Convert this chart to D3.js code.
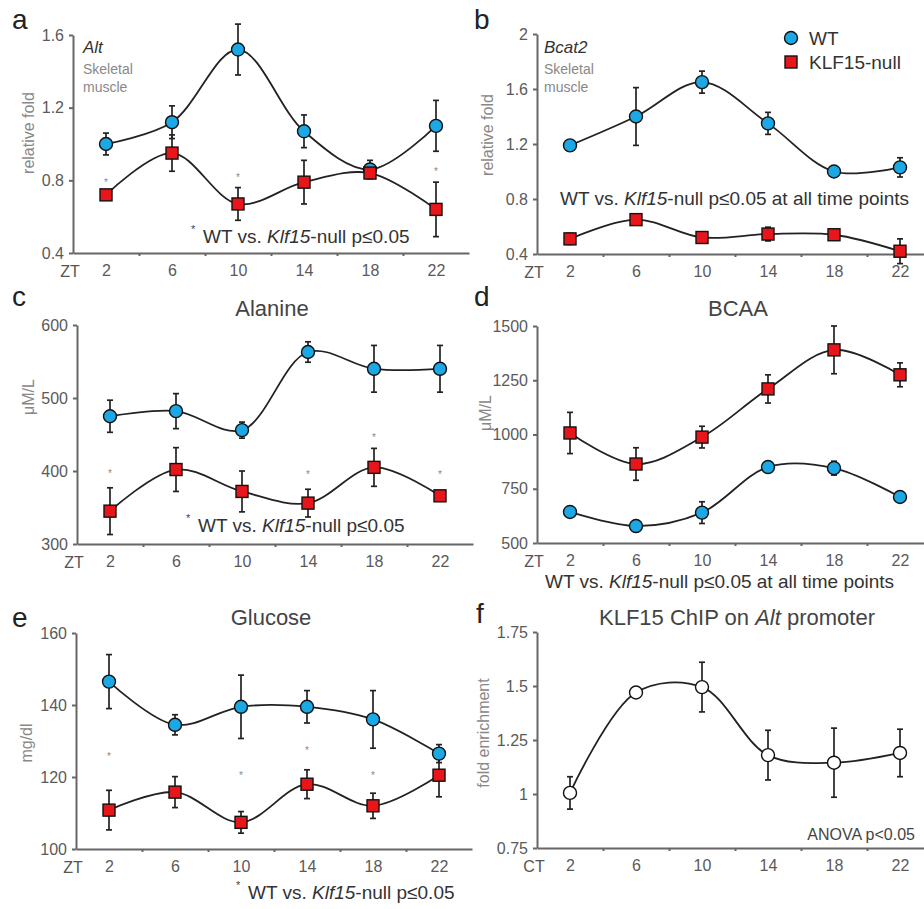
<!DOCTYPE html>
<html>
<head>
<meta charset="utf-8">
<script src="https://cdn.jsdelivr.net/npm/d3@7"></script>
<style>
  body { margin: 0; background: #fff; }
  svg { font-family: "Liberation Sans", Arial, sans-serif; }
  .axis path, .axis line { stroke: #666; stroke-width: 2; }
  .axis text { fill: #5a5a5a; font-size: 16px; }
</style>
</head>
<body>
<script>
// time points (ZT / CT)
const times = [2, 6, 10, 14, 18, 22];

// a: Alt, skeletal muscle
const altWT = [1.00, 1.12, 1.52, 1.07, 0.86, 1.10];
const altWTErr = [0.06, 0.09, 0.14, 0.09, 0.05, 0.14];
const altKO = [0.72, 0.95, 0.67, 0.79, 0.84, 0.64];
const altKOErr = [0.02, 0.10, 0.09, 0.12, 0.03, 0.15];
const altStars = [0.80, null, 0.83, null, null, 0.86];

// b: Bcat2, skeletal muscle
const bcatWT = [1.19, 1.40, 1.65, 1.35, 1.00, 1.03];
const bcatWTErr = [0.02, 0.21, 0.08, 0.08, 0.04, 0.07];
const bcatKO = [0.51, 0.65, 0.52, 0.545, 0.54, 0.42];
const bcatKOErr = [0.04, 0.02, 0.03, 0.05, 0.03, 0.09];

// c: Alanine
const alaWT = [475, 482, 456, 563, 540, 540];
const alaWTErr = [22, 24, 11, 14, 32, 32];
const alaKO = [345, 402, 372, 356, 405, 366];
const alaKOErr = [32, 30, 28, 19, 26, 6];
const alaStars = [400, null, null, 398, 450, 398];

// d: BCAA
const bcaaWT = [643, 578, 640, 850, 845, 712];
const bcaaWTErr = [8, 25, 50, 8, 32, 8];
const bcaaKO = [1007, 864, 988, 1210, 1390, 1275];
const bcaaKOErr = [95, 75, 50, 65, 110, 55];

// e: Glucose
const gluWT = [146.5, 134.5, 139.5, 139.5, 136, 126.5];
const gluWTErr = [7.5, 2.8, 8.8, 4.5, 8, 2.5];
const gluKO = [110.8, 115.8, 107.4, 118, 112, 120.5];
const gluKOErr = [5.5, 4.3, 3, 4, 3.5, 6];
const gluStars = [126.5, null, 121, 128, 121, null];

// f: KLF15 ChIP
const chip = [1.005, 1.47, 1.495, 1.18, 1.145, 1.19];
const chipErr = [0.075, 0, 0.115, 0.115, 0.16, 0.11];

const blue = '#1ba8e4';
const red = '#e8161b';

const svg = d3.select('body').append('svg')
  .attr('width', 924)
  .attr('height', 909);

// text with italic pieces: parts = [[text, italic], ...]
const mixed = (sel, parts) => {
  parts.forEach(([t, it]) => {
    sel.append('tspan').attr('font-style', it ? 'italic' : null).text(t);
  });
  return sel;
};

const drawPanel = (p) => {
  const x = d3.scaleLinear().domain([0, 24]).range([p.left, p.left + 396]);
  const y = d3.scaleLinear().domain(p.domain).range([p.bottom, p.top]);
  const g = svg.append('g');

  // y axis
  g.append('g')
    .attr('class', 'axis')
    .attr('transform', `translate(${p.left},0)`)
    .call(d3.axisLeft(y).tickValues(p.ticks).tickFormat(p.fmt)
      .tickSize(4).tickSizeOuter(0).tickPadding(5));

  // x axis: minor ticks between categories, then labels
  g.append('g')
    .attr('class', 'axis')
    .attr('transform', `translate(0,${p.bottom})`)
    .call(d3.axisBottom(x).tickValues([4, 8, 12, 16, 20]).tickFormat('')
      .tickSize(3).tickSizeOuter(0));
  g.append('g')
    .attr('class', 'axis')
    .attr('transform', `translate(0,${p.bottom})`)
    .call(d3.axisBottom(x).tickValues(times).tickSize(0).tickPadding(12))
    .call(a => a.select('.domain').remove());

  g.append('text')
    .attr('x', p.left - 3)
    .attr('y', p.bottom + 24)
    .attr('text-anchor', 'middle')
    .attr('fill', '#555')
    .attr('font-size', 16)
    .text(p.xName || 'ZT');

  // y axis title
  g.append('text')
    .attr('transform', `translate(${p.yLabelX},${p.yLabelY}) rotate(-90)`)
    .attr('text-anchor', 'middle')
    .attr('fill', '#888')
    .attr('font-size', 16)
    .text(p.yLabel);

  // panel letter
  g.append('text')
    .attr('x', p.letterX)
    .attr('y', p.letterY)
    .attr('font-size', 28)
    .attr('fill', '#222')
    .text(p.letter);

  const line = d3.line()
    .x((d, i) => x(times[i]))
    .y(d => y(d))
    .curve(d3.curveCatmullRom.alpha(0.5));

  p.series.forEach(s => {
    g.append('path')
      .attr('d', line(s.values))
      .attr('fill', 'none')
      .attr('stroke', '#222')
      .attr('stroke-width', 1.8);
  });

  p.series.forEach(s => {
    const eb = g.append('g').attr('stroke', '#222').attr('stroke-width', 1.7);
    s.values.forEach((v, i) => {
      const e = s.errors[i];
      if (!e) return;
      const cx = x(times[i]);
      eb.append('line').attr('x1', cx).attr('x2', cx)
        .attr('y1', y(v - e)).attr('y2', y(v + e));
      [v - e, v + e].forEach(w => {
        eb.append('line').attr('x1', cx - 3).attr('x2', cx + 3)
          .attr('y1', y(w)).attr('y2', y(w));
      });
    });
  });

  p.series.forEach(s => {
    s.values.forEach((v, i) => {
      const cx = x(times[i]);
      if (s.shape === 'square') {
        g.append('rect')
          .attr('x', cx - 6).attr('y', y(v) - 6)
          .attr('width', 12).attr('height', 12)
          .attr('fill', s.color).attr('stroke', '#111').attr('stroke-width', 1.4);
      } else {
        g.append('circle')
          .attr('cx', cx).attr('cy', y(v)).attr('r', 6.5)
          .attr('fill', s.color).attr('stroke', '#111').attr('stroke-width', 1.4);
      }
    });
  });

  if (p.stars) {
    p.stars.forEach((v, i) => {
      if (v == null) return;
      g.append('text')
        .attr('x', x(times[i]))
        .attr('y', y(v) + 6)
        .attr('text-anchor', 'middle')
        .attr('font-size', 10)
        .attr('fill', '#888')
        .text('*');
    });
  }

  if (p.title) {
    mixed(g.append('text')
      .attr('x', p.titleX)
      .attr('y', p.titleY)
      .attr('text-anchor', 'middle')
      .attr('font-size', 22)
      .attr('fill', '#444'), p.title);
  }
  return g;
};

const note = (x, y, star, tail) => {
  if (star) {
    svg.append('text').attr('x', x - 12).attr('y', y - 10)
      .attr('font-size', 11).attr('fill', '#444').text('*');
  }
  mixed(svg.append('text')
    .attr('x', x).attr('y', y)
    .attr('font-size', 19).attr('fill', '#333'),
    [['WT vs. ', false], ['Klf15', true], ['-null p\u22640.05' + (tail || ''), false]]);
};

const f1 = d3.format('.1f');

// a
const ga = drawPanel({
  left: 73, top: 35, bottom: 253, domain: [0.4, 1.6], ticks: [0.4, 0.8, 1.2, 1.6], fmt: f1,
  yLabel: 'relative fold', yLabelX: 34, yLabelY: 133, letter: 'a', letterX: 12, letterY: 29,
  series: [
    {values: altWT, errors: altWTErr, color: blue, shape: 'circle'},
    {values: altKO, errors: altKOErr, color: red, shape: 'square'}
  ],
  stars: altStars
});
ga.append('text').attr('x', 83).attr('y', 53).attr('font-size', 17)
  .attr('font-style', 'italic').attr('fill', '#333').text('Alt');
ga.append('text').attr('x', 83).attr('y', 74).attr('font-size', 14).attr('fill', '#888').text('Skeletal');
ga.append('text').attr('x', 83).attr('y', 92).attr('font-size', 14).attr('fill', '#888').text('muscle');
note(203, 243, true);

// b
const gb = drawPanel({
  left: 537, top: 34, bottom: 254, domain: [0.4, 2], ticks: [0.4, 0.8, 1.2, 1.6, 2],
  fmt: d => d === 2 ? '2' : f1(d),
  yLabel: 'relative fold', yLabelX: 493, yLabelY: 135, letter: 'b', letterX: 474, letterY: 29,
  series: [
    {values: bcatWT, errors: bcatWTErr, color: blue, shape: 'circle'},
    {values: bcatKO, errors: bcatKOErr, color: red, shape: 'square'}
  ]
});
gb.append('text').attr('x', 544).attr('y', 53).attr('font-size', 17)
  .attr('font-style', 'italic').attr('fill', '#333').text('Bcat2');
gb.append('text').attr('x', 544).attr('y', 74).attr('font-size', 14).attr('fill', '#888').text('Skeletal');
gb.append('text').attr('x', 544).attr('y', 92).attr('font-size', 14).attr('fill', '#888').text('muscle');
note(560, 205, false, ' at all time points');

// legend
const legend = svg.append('g').attr('font-size', 19).attr('fill', '#333');
legend.append('circle').attr('cx', 791).attr('cy', 38).attr('r', 6.5)
  .attr('fill', blue).attr('stroke', '#111').attr('stroke-width', 1.4);
legend.append('text').attr('x', 809).attr('y', 45).text('WT');
legend.append('rect').attr('x', 785).attr('y', 56).attr('width', 12).attr('height', 12)
  .attr('fill', red).attr('stroke', '#111').attr('stroke-width', 1.4);
legend.append('text').attr('x', 809).attr('y', 69).text('KLF15-null');

// c
drawPanel({
  left: 77, top: 325, bottom: 544, domain: [300, 600], ticks: [300, 400, 500, 600], fmt: d3.format('d'),
  yLabel: '\u03bcM/L', yLabelX: 34, yLabelY: 397, letter: 'c', letterX: 12, letterY: 306,
  title: [['Alanine', false]], titleX: 272, titleY: 316,
  series: [
    {values: alaWT, errors: alaWTErr, color: blue, shape: 'circle'},
    {values: alaKO, errors: alaKOErr, color: red, shape: 'square'}
  ],
  stars: alaStars
});
note(198, 532, true);

// d
drawPanel({
  left: 537, top: 326, bottom: 543, domain: [500, 1500], ticks: [500, 750, 1000, 1250, 1500],
  fmt: d3.format('d'),
  yLabel: '\u03bcM/L', yLabelX: 491, yLabelY: 413, letter: 'd', letterX: 474, letterY: 306,
  title: [['BCAA', false]], titleX: 738, titleY: 316,
  series: [
    {values: bcaaWT, errors: bcaaWTErr, color: blue, shape: 'circle'},
    {values: bcaaKO, errors: bcaaKOErr, color: red, shape: 'square'}
  ]
});
note(545, 588, false, ' at all time points');

// e
drawPanel({
  left: 76, top: 633, bottom: 849, domain: [100, 160], ticks: [100, 120, 140, 160], fmt: d3.format('d'),
  yLabel: 'mg/dl', yLabelX: 32, yLabelY: 743, letter: 'e', letterX: 12, letterY: 627,
  title: [['Glucose', false]], titleX: 271, titleY: 625,
  series: [
    {values: gluWT, errors: gluWTErr, color: blue, shape: 'circle'},
    {values: gluKO, errors: gluKOErr, color: red, shape: 'square'}
  ],
  stars: gluStars
});
note(248, 899, true);

// f
drawPanel({
  left: 537, top: 632, bottom: 848, domain: [0.75, 1.75], ticks: [0.75, 1, 1.25, 1.5, 1.75],
  fmt: d => String(d), xName: 'CT',
  yLabel: 'fold enrichment', yLabelX: 489, yLabelY: 733, letter: 'f', letterX: 476, letterY: 623,
  title: [['KLF15 ChIP on ', false], ['Alt', true], [' promoter', false]], titleX: 737, titleY: 625,
  series: [
    {values: chip, errors: chipErr, color: '#fff', shape: 'circle'}
  ]
});
svg.append('text').attr('x', 915).attr('y', 840).attr('text-anchor', 'end')
  .attr('font-size', 16).attr('fill', '#444').text('ANOVA p<0.05');
</script>
</body>
</html>
